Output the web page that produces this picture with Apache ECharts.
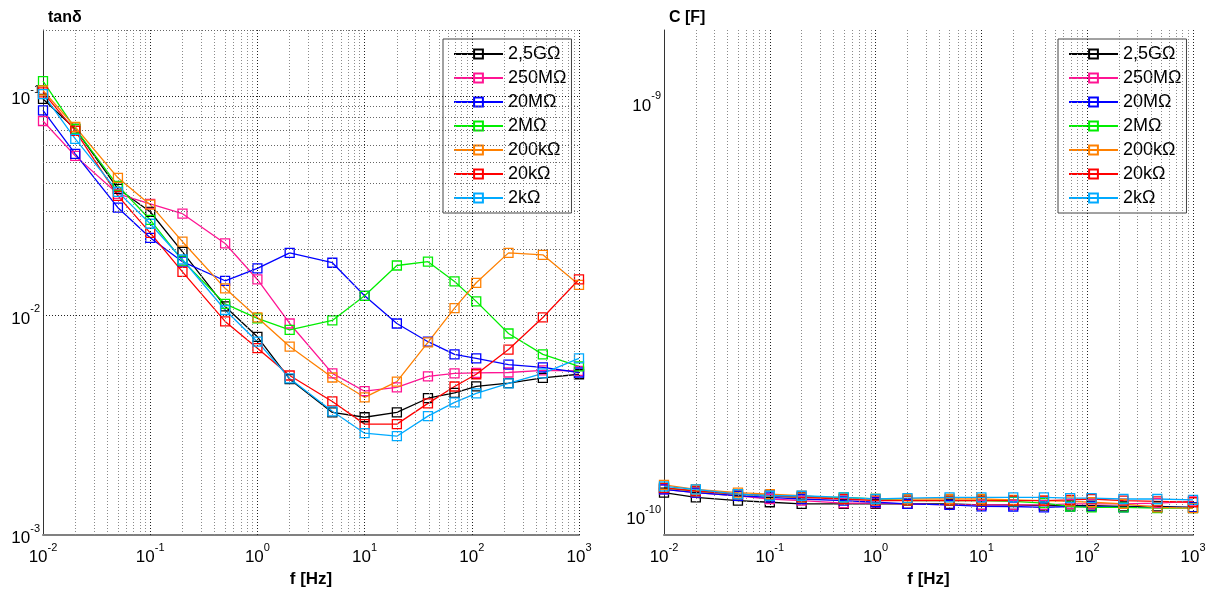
<!DOCTYPE html>
<html>
<head>
<meta charset="utf-8">
<script src="https://cdn.jsdelivr.net/npm/echarts@6/dist/echarts.min.js"></script>
<style>
html,body{margin:0;padding:0;background:#fff;}
#chart{width:1214px;height:590px;}
</style>
</head>
<body>
<div id="chart"></div>
<script>
// ---- data ----
const freq = [0.01, 0.02, 0.05, 0.1, 0.2, 0.5, 1, 2, 5, 10, 20, 39, 69, 110, 220, 460, 1000];
const names = ['2,5GΩ', '250MΩ', '20MΩ', '2MΩ', '200kΩ', '20kΩ', '2kΩ'];
const colors = ['#000000', '#ff1493', '#0000ff', '#00ee00', '#ff8000', '#ff0000', '#00aaff'];

// tan delta
const tan_2G5 = [0.097, 0.0708, 0.0378, 0.0297, 0.0195, 0.011, 0.0080, 0.00513, 0.00362, 0.00344, 0.00362, 0.0042, 0.00444, 0.00476, 0.00492, 0.0052, 0.0054];
const tan_250M = [0.077, 0.0534, 0.0358, 0.0323, 0.0291, 0.0213, 0.0146, 0.0092, 0.00545, 0.00452, 0.00471, 0.00528, 0.00545, 0.00548, 0.0055, 0.00562, 0.0056];
const tan_20M = [0.086, 0.0545, 0.031, 0.0226, 0.0176, 0.0144, 0.0164, 0.0193, 0.0174, 0.0123, 0.0092, 0.0076, 0.00665, 0.00638, 0.00598, 0.00581, 0.0055];
const tan_2M = [0.117, 0.0708, 0.039, 0.0273, 0.0178, 0.0113, 0.0097, 0.0086, 0.0095, 0.0123, 0.0169, 0.0176, 0.0143, 0.0116, 0.00828, 0.00665, 0.00587];
const tan_200k = [0.106, 0.0723, 0.0424, 0.032, 0.0217, 0.0133, 0.0098, 0.00722, 0.00522, 0.00424, 0.005, 0.00754, 0.0108, 0.0141, 0.0193, 0.0189, 0.0138];
const tan_20k = [0.104, 0.0694, 0.0351, 0.0238, 0.0158, 0.0094, 0.0071, 0.00533, 0.00406, 0.0032, 0.0032, 0.00398, 0.00475, 0.0054, 0.0070, 0.0098, 0.0146];
const tan_2k = [0.102, 0.0638, 0.0366, 0.0262, 0.018, 0.0106, 0.0076, 0.00517, 0.00366, 0.00291, 0.00282, 0.00348, 0.00402, 0.00442, 0.00491, 0.00545, 0.00638];

// capacitance, in units of 1e-10 F
const C_2G5 = [1.14, 1.11, 1.09, 1.08, 1.07, 1.07, 1.07, 1.07, 1.07, 1.065, 1.065, 1.06, 1.06, 1.06, 1.055, 1.055, 1.05];
const C_250M = [1.16, 1.14, 1.12, 1.10, 1.09, 1.075, 1.075, 1.07, 1.065, 1.065, 1.065, 1.065, 1.07, 1.07, 1.07, 1.075, 1.085];
const C_20M = [1.16, 1.14, 1.12, 1.11, 1.10, 1.09, 1.08, 1.07, 1.065, 1.056, 1.055, 1.05, 1.055, 1.055, 1.05, 1.05, 1.05];
const C_2M = [1.17, 1.15, 1.13, 1.12, 1.11, 1.11, 1.10, 1.09, 1.09, 1.09, 1.085, 1.075, 1.055, 1.05, 1.05, 1.045, 1.045];
const C_200k = [1.19, 1.16, 1.14, 1.13, 1.12, 1.10, 1.10, 1.10, 1.10, 1.10, 1.095, 1.09, 1.085, 1.08, 1.07, 1.05, 1.045];
const C_20k = [1.17, 1.15, 1.13, 1.12, 1.11, 1.10, 1.09, 1.09, 1.09, 1.09, 1.09, 1.09, 1.095, 1.10, 1.09, 1.085, 1.08];
const C_2k = [1.18, 1.16, 1.13, 1.12, 1.12, 1.11, 1.10, 1.105, 1.11, 1.11, 1.11, 1.11, 1.105, 1.105, 1.10, 1.10, 1.095];
const C_unit = 1e-10;

// axis ranges
const xMin = 0.01, xMax = 1000;
const yTanMin = 0.001, yTanMax = 0.2;
const yCMin = 9e-11, yCMax = 1.5e-9;

const tanSets = [tan_2G5, tan_250M, tan_20M, tan_2M, tan_200k, tan_20k, tan_2k];
const cSets = [C_2G5, C_250M, C_20M, C_2M, C_200k, C_20k, C_2k];

// ---- build ----
const FONT = "'Liberation Sans', Arial, Helvetica, sans-serif";

function isPow10(v) {
  const l = Math.log10(v);
  return Math.abs(l - Math.round(l)) < 1e-6;
}
function powLabel(v) {
  if (!isPow10(v)) return '';
  const e = Math.round(Math.log10(v));
  return '{b|10}{e|' + e + '}';
}
const richLab = {
  b: { fontSize: 17, fontFamily: FONT, color: '#000', lineHeight: 24, verticalAlign: 'bottom' },
  e: { fontSize: 11, fontFamily: FONT, color: '#000', lineHeight: 12, verticalAlign: 'top' }
};

function logLines(lo, hi) {
  const out = [];
  for (let n = Math.floor(Math.log10(lo)) - 1; n <= Math.ceil(Math.log10(hi)); n++) {
    for (let k = 1; k <= 9; k++) {
      const v = k * Math.pow(10, n);
      if (v >= lo * 0.999 && v <= hi * 1.001) out.push({ v: v, major: k === 1 });
    }
  }
  return out;
}

function gridSeries(xi, yMin, yMax) {
  const data = [];
  logLines(xMin, xMax).forEach(function (g) {
    if (g.v <= xMin * 1.001) return;
    data.push({ xAxis: g.v, lineStyle: { color: g.major ? '#222' : '#8a8a8a' } });
  });
  logLines(yMin, yMax).forEach(function (g) {
    if (g.v <= yMin * 1.001) return;
    data.push({ yAxis: g.v, lineStyle: { color: g.major ? '#222' : '#666' } });
  });
  data.push({ yAxis: yMax, lineStyle: { color: '#666' } });
  return {
    type: 'line', name: '_grid' + xi, xAxisIndex: xi, yAxisIndex: xi, data: [],
    silent: true, z: 0,
    markLine: {
      silent: true, symbol: 'none', animation: false,
      label: { show: false },
      lineStyle: { type: [1, 2], width: 1 },
      emphasis: { disabled: true },
      data: data
    }
  };
}

const series = [gridSeries(0, yTanMin, yTanMax), gridSeries(1, yCMin, yCMax)];
names.forEach(function (nm, i) {
  const common = {
    type: 'line', name: nm, symbol: 'rect', symbolSize: 9, z: 3,
    lineStyle: { color: colors[i], width: 1.3 },
    itemStyle: { color: 'rgba(255,255,255,0)', borderColor: colors[i], borderWidth: 1.3 },
    emphasis: { disabled: true },
    animation: false
  };
  series.push(Object.assign({}, common, {
    xAxisIndex: 0, yAxisIndex: 0,
    data: freq.map(function (f, j) { return [f, tanSets[i][j]]; })
  }));
  series.push(Object.assign({}, common, {
    xAxisIndex: 1, yAxisIndex: 1,
    data: freq.map(function (f, j) { return [f, cSets[i][j] * C_unit]; })
  }));
});

function xAxisCfg(gi) {
  return {
    type: 'log', logBase: 10, gridIndex: gi, min: xMin, max: xMax,
    name: 'f [Hz]', nameLocation: 'middle', nameGap: 36,
    nameTextStyle: { fontFamily: FONT, fontSize: 17, fontWeight: 'bold', color: '#000' },
    axisLine: { show: true, lineStyle: { color: '#808080', width: 2 } },
    axisTick: { show: false },
    splitLine: { show: false },
    minorTick: { show: false },
    axisLabel: { formatter: powLabel, rich: richLab, margin: 7, showMinLabel: true, showMaxLabel: true, hideOverlap: false }
  };
}
function yAxisCfg(gi, mn, mx) {
  return {
    type: 'log', logBase: 10, gridIndex: gi, min: mn, max: mx,
    axisLine: { show: true, lineStyle: { color: '#333', width: 1 } },
    axisTick: { show: false },
    splitLine: { show: false },
    axisLabel: { formatter: powLabel, rich: richLab, margin: 3, showMinLabel: true, showMaxLabel: true, hideOverlap: false }
  };
}

function legendCfg(left) {
  return {
    left: left, top: 39, orient: 'vertical',
    data: names,
    backgroundColor: '#fff',
    borderColor: '#444', borderWidth: 1,
    padding: [6, 5, 6, 10],
    itemWidth: 49, itemHeight: 11, itemGap: 6,
    textStyle: { fontFamily: FONT, fontSize: 18, color: '#000', lineHeight: 18 },
    selectedMode: false
  };
}

const option = {
  backgroundColor: '#fff',
  animation: false,
  title: [
    { text: 'tanδ', left: 43, top: 5, textStyle: { fontFamily: FONT, fontSize: 16, fontWeight: 'bold', color: '#000' } },
    { text: 'C [F]', left: 664, top: 5, textStyle: { fontFamily: FONT, fontSize: 16, fontWeight: 'bold', color: '#000' } }
  ],
  grid: [
    { left: 43, right: 635, top: 30, bottom: 55, containLabel: false, outerBoundsMode: 'none' },
    { left: 664, right: 21, top: 30, bottom: 55, containLabel: false, outerBoundsMode: 'none' }
  ],
  legend: [legendCfg(443), legendCfg(1058)],
  xAxis: [xAxisCfg(0), xAxisCfg(1)],
  yAxis: [yAxisCfg(0, yTanMin, yTanMax), yAxisCfg(1, yCMin, yCMax)],
  series: series
};

const chart = echarts.init(document.getElementById('chart'), null, { renderer: 'canvas' });
chart.setOption(option);
</script>
</body>
</html>
